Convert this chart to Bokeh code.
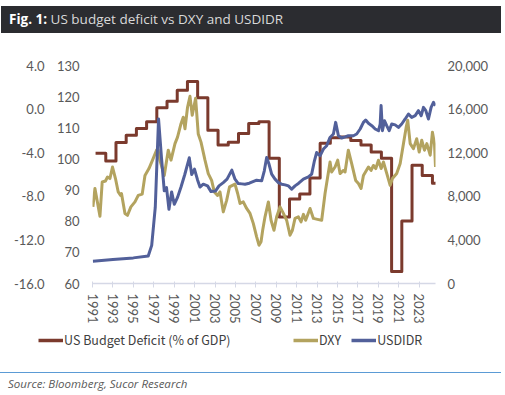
from bokeh.plotting import figure
from bokeh.layouts import column
from bokeh.models import (Range1d, LinearAxis, FixedTicker, NumeralTickFormatter,
                          Legend, LegendItem, Div)
from bokeh.embed import file_html
from bokeh.resources import INLINE

# ---------------- data ----------------
deficit_years = list(range(1991, 2025))
deficit_values = [-4.05, -4.75, -3.07, -2.4, -1.77, -1.16, 0.12, 0.72, 1.72, 2.54,
                  1.03, -1.95, -3.29, -3.05, -2.23, -1.31, -1.16, -4.5, -9.9, -8.24,
                  -7.8, -6.33, -3.14, -2.62, -2.55, -2.87, -3.3, -3.93, -4.5, -14.9,
                  -10.27, -5.14, -6.1, -6.8]

dxy_dates = [1991.04, 1991.24, 1991.73, 1991.95, 1992.27, 1992.47, 1992.71, 1992.96, 1993.25, 1993.52,
             1993.75, 1993.84, 1994.18, 1994.43, 1994.76, 1995.16, 1995.48, 1995.87, 1996.14, 1996.53,
             1996.88, 1997.27, 1997.42, 1997.6, 1998.03, 1998.42, 1998.69, 1999.08, 1999.33, 1999.67,
             1999.89, 2000.06, 2000.31, 2000.55, 2000.77, 2001.1, 2001.36, 2001.63, 2002.02, 2002.34,
             2002.67, 2002.93, 2003.25, 2003.49, 2003.81, 2004.14, 2004.42, 2004.96, 2005.22, 2005.45,
             2005.77, 2006.1, 2006.43, 2006.75, 2007.08, 2007.31, 2007.51, 2007.67, 2007.9, 2008.23,
             2008.49, 2008.78, 2009.04, 2009.37, 2009.7, 2010.02, 2010.35, 2010.58, 2010.84, 2011.17,
             2011.43, 2011.66, 2011.88, 2012.31, 2012.64, 2013.03, 2013.45, 2013.78, 2014.27, 2014.43,
             2014.76, 2015.02, 2015.25, 2015.58, 2015.74, 2016.06, 2016.39, 2016.78, 2017.05, 2017.31,
             2017.54, 2018.03, 2018.29, 2018.52, 2018.75, 2019.01, 2019.28, 2019.5, 2019.83, 2020.16,
             2020.38, 2020.8, 2021.14, 2021.46, 2021.73, 2021.88, 2022.12, 2022.44, 2022.76, 2023.0,
             2023.25, 2023.52, 2023.75, 2024.08, 2024.3, 2024.5, 2024.6]
dxy_values = [84.6, 90.5, 81.6, 92.6, 92.9, 94.2, 93.7, 97.4, 93.7, 89.4,
              88.3, 88.9, 82.5, 81.9, 84.6, 86.2, 88.3, 88.7, 94.7, 96.9,
              99.6, 102.8, 103.0, 99.6, 94.7, 102.8, 99.6, 104.9, 107.0, 111.3,
              113.4, 109.7, 116.6, 120.1, 114.0, 119.5, 108.0, 105.4, 99.6, 95.3,
              93.1, 89.4, 88.3, 89.4, 83.0, 86.7, 91.0, 91.9, 88.9, 85.7,
              86.2, 84.1, 82.5, 79.3, 75.0, 72.3, 73.4, 77.1, 81.4, 86.2,
              80.3, 77.1, 81.4, 84.6, 82.5, 80.3, 75.5, 77.1, 80.9, 81.4,
              79.8, 82.2, 80.3, 84.1, 80.9, 80.6, 80.3, 88.9, 99.0, 95.8,
              97.4, 99.6, 95.3, 96.3, 95.8, 102.8, 98.5, 93.1, 92.1, 90.5,
              94.7, 97.4, 96.3, 97.9, 96.9, 99.6, 96.9, 99.0, 95.3, 91.5,
              93.7, 95.3, 98.5, 104.9, 110.2, 112.4, 104.9, 103.3, 106.5, 102.2,
              106.0, 102.8, 104.9, 101.2, 108.6, 104.9, 97.4]

idr_dates = [1991.04, 1993.0, 1995.0, 1996.46, 1996.8, 1997.15, 1997.47, 1997.76, 1998.03, 1998.25,
             1998.49, 1998.75, 1999.01, 1999.33, 1999.67, 2000.04, 2000.48, 2000.72, 2000.99, 2001.29,
             2001.53, 2001.85, 2002.27, 2002.61, 2003.06, 2003.39, 2003.81, 2004.18, 2004.65, 2004.96,
             2005.28, 2005.63, 2005.94, 2006.36, 2007.08, 2007.57, 2007.83, 2008.06, 2008.29, 2008.55,
             2008.88, 2009.21, 2009.53, 2009.87, 2010.19, 2010.51, 2010.84, 2011.2, 2011.66, 2012.15,
             2012.47, 2012.74, 2012.96, 2013.29, 2013.62, 2013.94, 2014.27, 2014.6, 2014.82, 2015.09,
             2015.41, 2015.75, 2016.06, 2016.56, 2016.88, 2017.22, 2017.54, 2017.76, 2018.03, 2018.36,
             2018.69, 2019.02, 2019.18, 2019.27, 2019.4, 2019.6, 2019.82, 2020.06, 2020.31, 2020.65,
             2020.97, 2021.29, 2021.63, 2021.95, 2022.27, 2022.61, 2022.93, 2023.2, 2023.42, 2023.65,
             2023.91, 2024.17, 2024.4, 2024.6]
idr_values = [2050, 2200, 2350, 2520, 3500, 7000, 15100, 11500, 8500, 8800,
              6811, 8400, 7271, 7900, 8850, 10000, 11530, 10000, 10490, 9500,
              8850, 9112, 8955, 8431, 8495, 8955, 9259, 9572, 10400, 9572,
              9167, 9140, 9112, 9200, 9480, 9416, 10336, 11560, 10953, 10032,
              9572, 9259, 9112, 9050, 8955, 8652, 8955, 9200, 9572, 9784,
              10032, 11256, 12020, 11717, 12333, 12637, 13401, 13714, 14781, 13557,
              13345, 13450, 13557, 13557, 13714, 14174, 14781, 15002, 14700, 14478,
              14174, 14018, 14634, 16319, 14018, 14938, 14478, 14018, 14634, 14550,
              14322, 14634, 15094, 15554, 15242, 15400, 15858, 15398, 16162, 15858,
              15094, 16162, 16622, 16319]

year_ticks = list(range(1991, 2024, 2))
dxy_ticks = [60, 70, 80, 90, 100, 110, 120, 130]
deficit_ticks = [-16, -12, -8, -4, 0, 4]
idr_ticks = [0, 4000, 8000, 12000, 16000, 20000]

title_bold = "Fig. 1:"
title_rest = "US budget deficit vs DXY and USDIDR"
source_text = "Source: Bloomberg, Sucor Research"
names = ["US Budget Deficit (% of GDP)", "DXY", "USDIDR"]

C_DEF = "#7B3A2D"
C_DXY = "#B3A35F"
C_IDR = "#52609A"
AX_FONT = "Lato"
AX_COLOR = "#595959"
W = 505
NAN = float("nan")

# ---------------- title bar (HTML) ----------------
H1 = 33
title_div = Div(width=W, height=H1, margin=(0, 0, 0, 0), text=(
    '<div style="margin:6px 0 0 1px;width:500px;height:27px;background:#2B2C30;'
    'font-family:\'Open Sans\';font-size:13.5px;line-height:26px;white-space:nowrap;">'
    '<span style="padding-left:8px;color:#FFFFFF;font-weight:bold;">' + title_bold + '</span>'
    '<span style="color:#D9D9D9;"> ' + title_rest + '</span></div>'))

# ---------------- main chart ----------------
H2 = 297
p = figure(width=W, height=H2, output_backend="svg", toolbar_location=None,
           x_range=Range1d(1991, 2024.6), y_range=Range1d(60, 130),
           min_border_left=92, min_border_right=70, min_border_top=32, min_border_bottom=47)
p.frame_align = False
p.extra_y_ranges = {"def": Range1d(-16, 4), "idr": Range1d(0, 20000)}
p.outline_line_color = None
p.grid.visible = False
p.border_fill_color = "white"

xa = p.xaxis[0]
xa.ticker = FixedTicker(ticks=year_ticks)
xa.formatter = NumeralTickFormatter(format="0")
xa.major_label_orientation = "vertical"
xa.axis_line_color = "#D5D8E6"
xa.axis_line_width = 1.5
xa.major_tick_line_color = "#D5D8E6"
xa.major_tick_in = 2
xa.major_tick_out = 4
xa.minor_tick_line_color = None
xa.major_label_standoff = 6
xa.major_label_text_font = AX_FONT
xa.major_label_text_font_size = "13px"
xa.major_label_text_color = AX_COLOR

def style_y(ax, standoff):
    ax.axis_line_color = None
    ax.major_tick_line_color = None
    ax.minor_tick_line_color = None
    ax.major_tick_in = 0
    ax.major_tick_out = 0
    ax.major_label_standoff = standoff
    ax.major_label_text_font = AX_FONT
    ax.major_label_text_font_size = "13px"
    ax.major_label_text_color = AX_COLOR

ya = p.yaxis[0]
ya.ticker = FixedTicker(ticks=dxy_ticks)
style_y(ya, 13)

def_axis = LinearAxis(y_range_name="def", ticker=FixedTicker(ticks=deficit_ticks),
                      formatter=NumeralTickFormatter(format="0.0"))
style_y(def_axis, 9)
p.add_layout(def_axis, "left")

idr_axis = LinearAxis(y_range_name="idr", ticker=FixedTicker(ticks=idr_ticks),
                      formatter=NumeralTickFormatter(format="0,0"))
style_y(idr_axis, 12)
p.add_layout(idr_axis, "right")

def_x = [y + 0.3 for y in deficit_years] + [deficit_years[-1] + 0.7]
def_y = deficit_values + [deficit_values[-1]]
p.step(def_x, def_y, mode="after", y_range_name="def",
       line_color=C_DEF, line_width=3, line_join="round")
p.line(dxy_dates, dxy_values, line_color=C_DXY, line_width=3, line_join="round")
p.line(idr_dates, idr_values, y_range_name="idr",
       line_color=C_IDR, line_width=3, line_join="round")

# ---------------- legend strip ----------------
H3 = 30
pl = figure(width=W, height=H3, output_backend="svg", toolbar_location=None,
            x_axis_type=None, y_axis_type=None,
            x_range=Range1d(0, 1), y_range=Range1d(0, 1),
            min_border_left=0, min_border_right=0, min_border_top=0, min_border_bottom=0)
pl.frame_align = False
pl.outline_line_color = None
pl.grid.visible = False
pl.border_fill_color = "white"
# legend proxies (no visible points)
g_def = pl.line([0, 1], [NAN, NAN], line_color=C_DEF, line_width=3.5)
g_dxy = pl.line([0, 1], [NAN, NAN], line_color=C_DXY, line_width=3.5)
g_idr = pl.line([0, 1], [NAN, NAN], line_color=C_IDR, line_width=3.5)

def style_leg(lg):
    lg.orientation = "horizontal"
    lg.border_line_color = None
    lg.background_fill_alpha = 0
    lg.padding = 0
    lg.margin = 0
    lg.spacing = 10
    lg.glyph_width = 25
    lg.glyph_height = 16
    lg.label_height = 16
    lg.label_standoff = 1
    lg.label_text_font = "Noto Sans CJK SC"
    lg.label_text_font_size = "12.5px"
    lg.label_text_color = "#3F3F3F"

leg1 = Legend(items=[LegendItem(label=names[0], renderers=[g_def])], location=(38, 11))
leg2 = Legend(items=[LegendItem(label=names[1], renderers=[g_dxy]),
                     LegendItem(label=names[2], renderers=[g_idr])], location=(293, 11))
style_leg(leg1)
style_leg(leg2)
pl.add_layout(leg1, "center")
pl.add_layout(leg2, "center")

# ---------------- source strip (HTML) ----------------
H4 = 395 - H1 - H2 - H3
source_div = Div(width=W, height=H4, margin=(0, 0, 0, 0), text=(
    '<div style="margin:12px 0 0 0;width:501px;border-top:1px solid #5B9BD5;">'
    '<div style="padding:4px 0 0 8px;font-family:\'Open Sans\';font-style:italic;'
    'font-size:11.5px;line-height:14px;color:#595959;white-space:nowrap;">'
    + source_text + '</div></div>'))

layout = column(title_div, p, pl, source_div, spacing=0)
open("out.html", "w").write(file_html(layout, INLINE))
